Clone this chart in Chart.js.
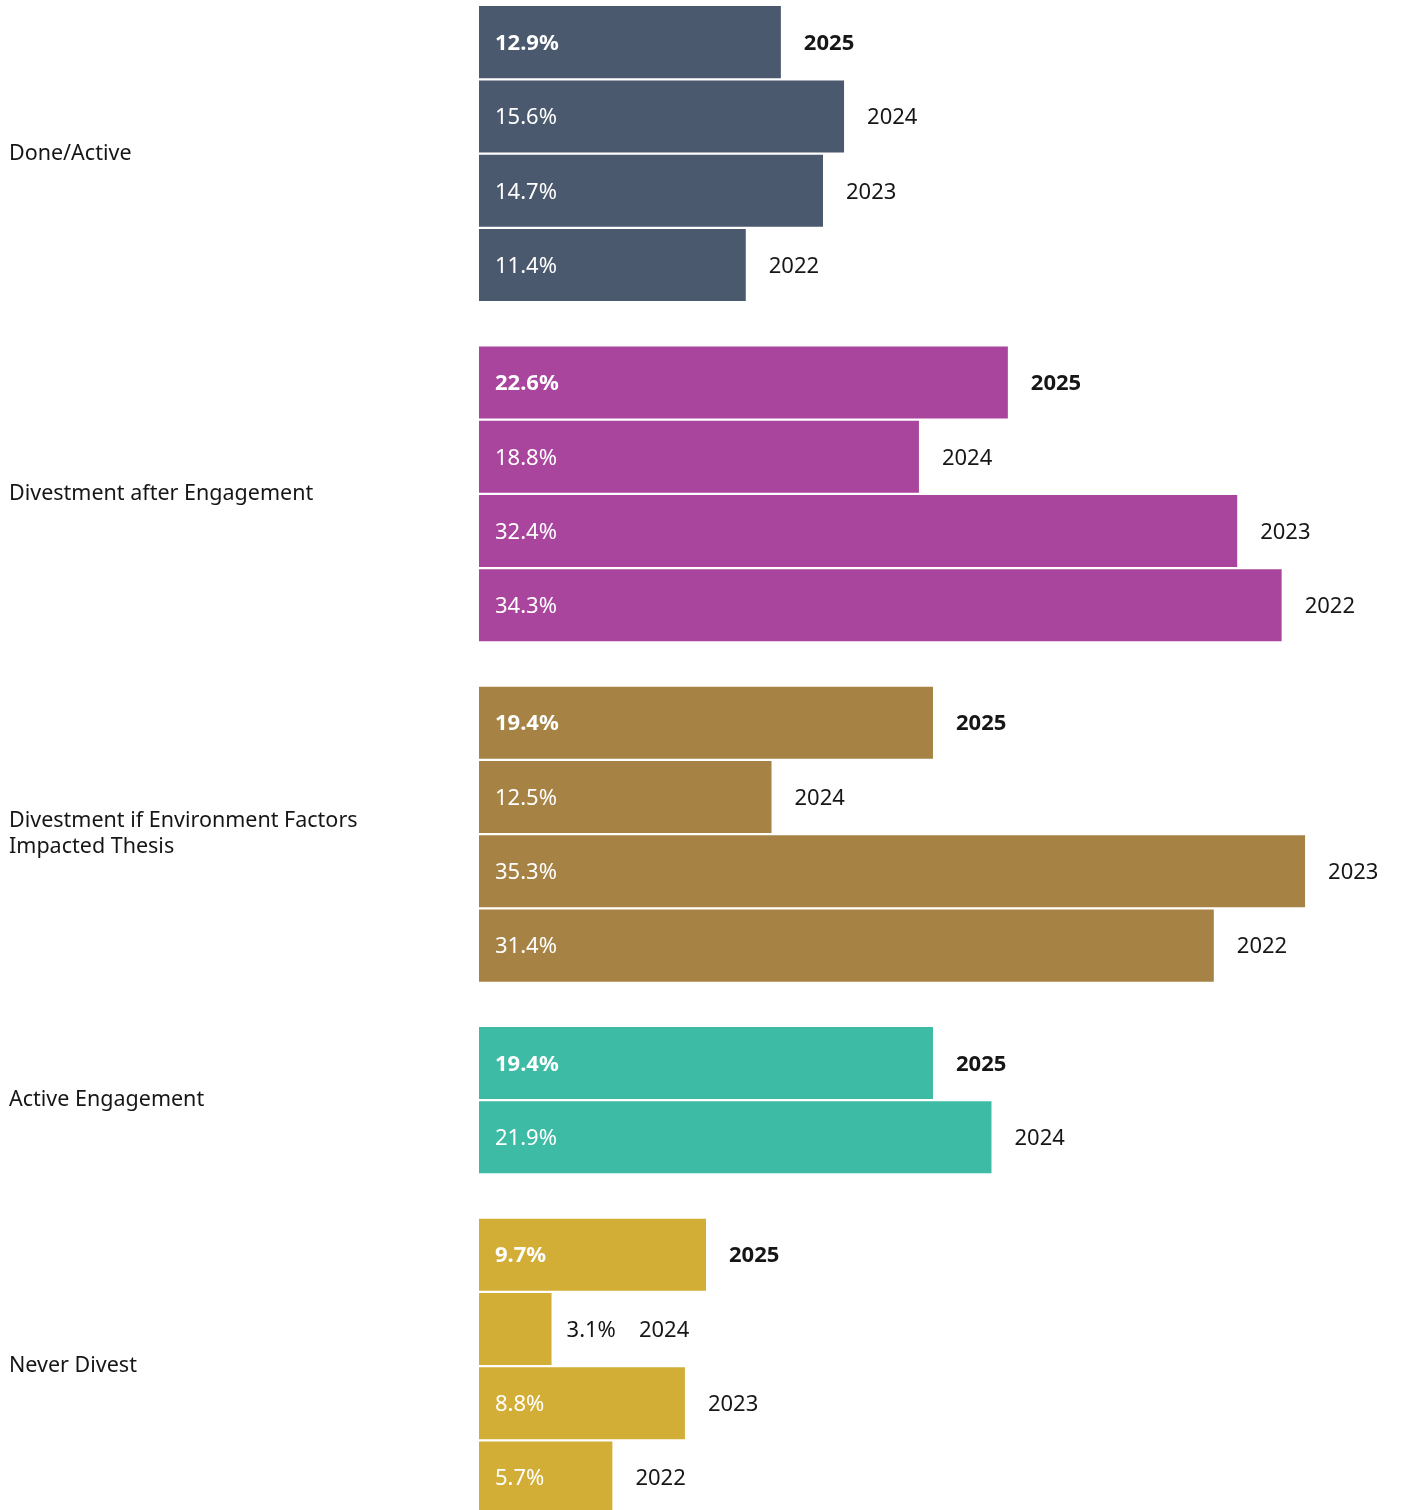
<!DOCTYPE html>
<html>
<head>
<meta charset="utf-8">
<script src="https://cdn.jsdelivr.net/npm/chart.js@4/dist/chart.umd.min.js"></script>
<style>
  html, body { margin: 0; padding: 0; background: #ffffff; overflow: hidden; }
  #wrap { position: relative; width: 1401px; height: 1510px; }
</style>
</head>
<body>
<div id="wrap"><canvas id="chart"></canvas></div>
<script>
// ---- Data ----
const categories = [
  "Done/Active",
  "Divestment after Engagement",
  ["Divestment if Environment Factors", "Impacted Thesis"],
  "Active Engagement",
  "Never Divest"
];
const doneActiveYears = ["2025", "2024", "2023", "2022"];
const doneActiveValues = [12.9, 15.6, 14.7, 11.4];
const divestAfterEngagementYears = ["2025", "2024", "2023", "2022"];
const divestAfterEngagementValues = [22.6, 18.8, 32.4, 34.3];
const divestEnvironmentYears = ["2025", "2024", "2023", "2022"];
const divestEnvironmentValues = [19.4, 12.5, 35.3, 31.4];
const activeEngagementYears = ["2025", "2024"];
const activeEngagementValues = [19.4, 21.9];
const neverDivestYears = ["2025", "2024", "2023", "2022"];
const neverDivestValues = [9.7, 3.1, 8.8, 5.7];
const highlightYear = "2025";
const groupColors = ["#4a596e", "#aa459e", "#a68345", "#3dbba5", "#d3ae37"];

// ---- Build rows ----
const groupYears = [doneActiveYears, divestAfterEngagementYears, divestEnvironmentYears, activeEngagementYears, neverDivestYears];
const groupValues = [doneActiveValues, divestAfterEngagementValues, divestEnvironmentValues, activeEngagementValues, neverDivestValues];
const GROUP_GAP = 0.58; // extra slot space between groups
const rows = [];
const groupCenters = [];
let slot = 0;
groupValues.forEach((vals, g) => {
  const start = slot;
  vals.forEach((v, i) => {
    rows.push({ group: g, year: groupYears[g][i], value: v, slot: slot });
    slot += 1;
  });
  groupCenters.push((start + slot - 1) / 2);
  slot += GROUP_GAP;
});
const lastSlot = rows[rows.length - 1].slot;

const FAMILY = '"Noto Sans", "DejaVu Sans", sans-serif';
const FSIZE = 22;
const CAT_FSIZE = 21.5;
const TEXT = '#161616';

const labelPlugin = {
  id: 'barLabels',
  afterDatasetsDraw(chart) {
    const ctx = chart.ctx;
    const meta = chart.getDatasetMeta(0);
    meta.data.forEach((bar, i) => {
      const r = rows[i];
      const bold = r.year === highlightYear;
      ctx.save();
      ctx.font = (bold ? '700 ' : '400 ') + FSIZE + 'px ' + FAMILY;
      ctx.textBaseline = 'middle';
      ctx.textAlign = 'left';
      const txt = r.value.toFixed(1) + '%';
      const w = ctx.measureText(txt).width;
      const left = Math.min(bar.base, bar.x);
      const right = Math.max(bar.base, bar.x);
      const ty = bar.y + 1.5;
      let end;
      if (right - left >= w + 32) {
        ctx.fillStyle = '#ffffff';
        ctx.fillText(txt, left + 16, ty);
        end = right;
      } else {
        ctx.fillStyle = TEXT;
        ctx.fillText(txt, right + 15, ty);
        end = right + 15 + w;
      }
      ctx.fillStyle = TEXT;
      ctx.fillText(r.year, end + 23, ty);
      ctx.restore();
    });
  }
};

new Chart(document.getElementById('chart'), {
  type: 'bar',
  data: {
    datasets: [{
      data: rows.map(r => ({ x: r.value, y: r.slot })),
      backgroundColor: rows.map(r => groupColors[r.group]),
      borderWidth: 0,
      categoryPercentage: 1,
      barPercentage: 0.97
    }]
  },
  options: {
    indexAxis: 'y',
    responsive: true,
    maintainAspectRatio: false,
    animation: false,
    layout: { padding: { left: 9, right: 0, top: 5, bottom: 0 } },
    plugins: { legend: { display: false }, tooltip: { enabled: false } },
    scales: {
      x: { type: 'linear', display: false, min: 0, max: 39.4, offset: false },
      y: {
        type: 'linear',
        reverse: true,
        offset: false,
        min: -0.5,
        max: lastSlot + 0.436,
        grid: { display: false, offset: false },
        border: { display: false },
        afterBuildTicks: (scale) => {
          scale.ticks = groupCenters.map(v => ({ value: v }));
        },
        afterFit: (scale) => {
          scale.width = 470;
          scale.paddingTop = 0;
          scale.paddingBottom = 0;
        },
        ticks: {
          autoSkip: false,
          crossAlign: 'far',
          padding: 0,
          color: TEXT,
          font: { family: FAMILY, size: CAT_FSIZE, lineHeight: 1.2 },
          callback: (value, index) => categories[index]
        }
      }
    }
  },
  plugins: [labelPlugin]
});
</script>
</body>
</html>
